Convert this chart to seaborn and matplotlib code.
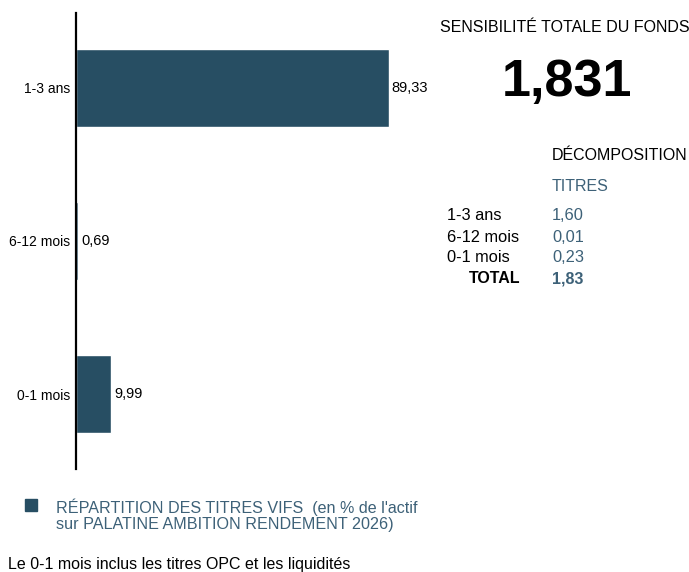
import pandas as pd
import seaborn as sns
import matplotlib.pyplot as plt

categories = ['1-3 ans', '6-12 mois', '0-1 mois']
repartition = [89.33, 0.69, 9.99]
sensi_labels = ['1-3 ans', '6-12 mois', '0-1 mois']
sensi_titres = ['1,60', '0,01', '0,23']
sensi_total = '1,83'
sensi_fonds = '1,831'

BAR_COLOR = '#274e63'
TEXT_BLUE = '#3d6178'

sns.set_style('white')
plt.rcParams['font.family'] = ['Liberation Sans', 'DejaVu Sans']
plt.rcParams['text.color'] = 'black'
plt.rcParams['ytick.color'] = 'black'
plt.rcParams['ytick.labelcolor'] = 'black'

df = pd.DataFrame({'tranche': categories, 'pct': repartition})

fig = plt.figure(figsize=(6.89, 5.72), dpi=100)
W, H = 689, 572
# axes in pixel coords: left 76, right 426, top 13, bottom 469
ax = fig.add_axes([76 / W, 1 - 469 / H, 350 / W, 456 / H])
sns.barplot(data=df, x='pct', y='tranche', orient='h', color=BAR_COLOR,
            saturation=1, width=0.51, ax=ax)
ax.set_xlim(0, 100)
ax.set_ylim(2.49, -0.49)
ax.set_xlabel('')
ax.set_ylabel('')
ax.set_xticks([])
for s in ['top', 'right', 'bottom']:
    ax.spines[s].set_visible(False)
ax.spines['left'].set_color('black')
ax.spines['left'].set_linewidth(1.6)
ax.tick_params(axis='y', length=0, pad=4, labelsize=10)

for i, v in enumerate(repartition):
    ax.text(v + 0.9, i, f'{v:.2f}'.replace('.', ','), va='center', ha='left', fontsize=10.5)

def px(x, y):
    return x / W, 1 - y / H

fig.text(*px(440, 27), 'SENSIBILITÉ TOTALE DU FONDS', fontsize=11.5, va='center', ha='left')
fig.text(*px(567, 82), sensi_fonds, fontsize=37.5, fontweight='bold', va='center', ha='center')
fig.text(*px(552, 156), 'DÉCOMPOSITION', fontsize=11.5, va='center', ha='left')
fig.text(*px(552, 187), 'TITRES', fontsize=11.5, va='center', ha='left', color=TEXT_BLUE)
for j, (lab, val) in enumerate(zip(sensi_labels, sensi_titres)):
    y = 216 + j * 21
    fig.text(*px(447, y), lab, fontsize=11.8, va='center', ha='left')
    fig.text(*px(552, y), val, fontsize=11.8, va='center', ha='left', color=TEXT_BLUE)
fig.text(*px(520, 279), 'TOTAL', fontsize=11.5, fontweight='bold', va='center', ha='right')
fig.text(*px(552, 279), sensi_total, fontsize=11.5, fontweight='bold', va='center', ha='left',
         color=TEXT_BLUE)

# legend
fig.patches.append(plt.Rectangle(px(25, 511), 12 / W, 12 / H, transform=fig.transFigure,
                                 color=BAR_COLOR, figure=fig))
fig.text(*px(56, 507), "RÉPARTITION DES TITRES VIFS  (en % de l'actif", fontsize=11.6,
         va='center', ha='left', color=TEXT_BLUE)
fig.text(*px(56, 525), 'sur PALATINE AMBITION RENDEMENT 2026)', fontsize=11.6,
         va='center', ha='left', color=TEXT_BLUE)
fig.text(*px(8, 565), 'Le 0-1 mois inclus les titres OPC et les liquidités', fontsize=11.5,
         va='center', ha='left')

fig.savefig('out.png', dpi=100)
